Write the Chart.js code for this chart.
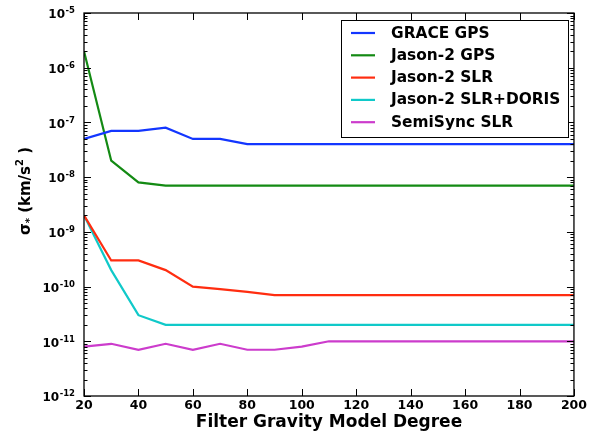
<!DOCTYPE html>
<html>
<head>
<meta charset="utf-8">
<script src="https://cdn.jsdelivr.net/npm/chart.js@4/dist/chart.umd.min.js"></script>
<style>
  html, body { margin: 0; padding: 0; background: #ffffff; }
  canvas { display: block; }
</style>
</head>
<body>
<canvas id="chart" width="589" height="435"></canvas>
<script>
// Filter gravity model degree (x) and sigma* values per tracking configuration
const degrees = [20, 30, 40, 50, 60, 70, 80, 90, 100, 110, 120, 130, 140, 150, 160, 170, 180, 190, 200];

const graceGps = [5e-8, 7e-8, 7e-8, 8e-8, 5e-8, 5e-8, 4e-8, 4e-8, 4e-8, 4e-8, 4e-8, 4e-8, 4e-8, 4e-8, 4e-8, 4e-8, 4e-8, 4e-8, 4e-8];
const jason2Gps = [2e-6, 2e-8, 8e-9, 7e-9, 7e-9, 7e-9, 7e-9, 7e-9, 7e-9, 7e-9, 7e-9, 7e-9, 7e-9, 7e-9, 7e-9, 7e-9, 7e-9, 7e-9, 7e-9];
const jason2Slr = [2e-9, 3e-10, 3e-10, 2e-10, 1e-10, 9e-11, 8e-11, 7e-11, 7e-11, 7e-11, 7e-11, 7e-11, 7e-11, 7e-11, 7e-11, 7e-11, 7e-11, 7e-11, 7e-11];
const jason2SlrDoris = [2e-9, 2e-10, 3e-11, 2e-11, 2e-11, 2e-11, 2e-11, 2e-11, 2e-11, 2e-11, 2e-11, 2e-11, 2e-11, 2e-11, 2e-11, 2e-11, 2e-11, 2e-11, 2e-11];
const semiSyncSlr = [8e-12, 9e-12, 7e-12, 9e-12, 7e-12, 9e-12, 7e-12, 7e-12, 8e-12, 1e-11, 1e-11, 1e-11, 1e-11, 1e-11, 1e-11, 1e-11, 1e-11, 1e-11, 1e-11];

const seriesNames = ['GRACE GPS', 'Jason-2 GPS', 'Jason-2 SLR', 'Jason-2 SLR+DORIS', 'SemiSync SLR'];
const seriesValues = [graceGps, jason2Gps, jason2Slr, jason2SlrDoris, semiSyncSlr];
const seriesColors = ['#1336ff', '#138a13', '#ff2d10', '#10c9c9', '#cc3ccc'];

const xTickValues = [20, 40, 60, 80, 100, 120, 140, 160, 180, 200];
const yDecadeExponents = [-12, -11, -10, -9, -8, -7, -6, -5];

const FONT = "'DejaVu Sans', 'Liberation Sans', sans-serif";

// Inward ticks on all four sides, boxed frame, math-style y labels, y title and legend
const axesDecor = {
  id: 'axesDecor',
  afterDraw(chart) {
    const { ctx, chartArea, scales } = chart;
    const { left, right, top, bottom } = chartArea;
    const xs = scales.x, ys = scales.y;
    ctx.save();
    ctx.strokeStyle = '#000';
    ctx.fillStyle = '#000';
    ctx.lineWidth = 1;

    const seg = (x1, y1, x2, y2) => {
      ctx.beginPath(); ctx.moveTo(x1, y1); ctx.lineTo(x2, y2); ctx.stroke();
    };

    // y ticks: decades (major) and 2..9 multiples (minor)
    for (const e of yDecadeExponents) {
      for (let k = 1; k <= 9; k++) {
        if (e === yDecadeExponents[yDecadeExponents.length - 1] && k > 1) break;
        const v = k * Math.pow(10, e);
        const py = Math.round(ys.getPixelForValue(v)) + 0.5;
        const len = k === 1 ? 7 : 3.5;
        seg(left, py, left + len, py);
        seg(right, py, right - len, py);
      }
    }
    // x ticks
    for (const v of xTickValues) {
      const px = Math.round(xs.getPixelForValue(v)) + 0.5;
      seg(px, bottom, px, bottom - 7);
      seg(px, top, px, top + 7);
    }
    // frame
    ctx.lineWidth = 1.3;
    ctx.strokeRect(left, top, right - left, bottom - top);

    // y tick labels: 10 with superscript exponent
    const labelRight = 75;
    ctx.textAlign = 'right';
    ctx.textBaseline = 'alphabetic';
    for (const e of yDecadeExponents) {
      const py = ys.getPixelForValue(Math.pow(10, e));
      const expText = '-' + String(-e);
      ctx.font = 'bold 8.5px ' + FONT;
      const ew = ctx.measureText(expText).width;
      ctx.fillText(expText, labelRight, py + 0.3);
      ctx.font = 'bold 12px ' + FONT;
      ctx.fillText('10', labelRight - ew - 0.5, py + 5.3);
    }

    // y axis title: sigma_* (km/s^2 )
    ctx.save();
    ctx.translate(30, 235);
    ctx.rotate(-Math.PI / 2);
    ctx.textAlign = 'left';
    const parts = [
      { t: '\u03c3', size: 15, dy: 0 },
      { t: '*', size: 10, dy: 3 },
      { t: ' (km/s', size: 15, dy: 0 },
      { t: '2', size: 10, dy: -7 },
      { t: ' )', size: 15, dy: 0 }
    ];
    let cx = 0;
    for (const p of parts) {
      ctx.font = 'bold ' + p.size + 'px ' + FONT;
      ctx.fillText(p.t, cx, p.dy);
      cx += ctx.measureText(p.t).width;
    }
    ctx.restore();

    // legend box
    const lx = 341.5, ly = 20.5, lw = 227, lh = 117;
    ctx.fillStyle = '#fff';
    ctx.fillRect(lx, ly, lw, lh);
    ctx.lineWidth = 1;
    ctx.strokeStyle = '#000';
    ctx.strokeRect(lx, ly, lw, lh);
    ctx.font = 'bold 15.4px ' + FONT;
    ctx.textAlign = 'left';
    ctx.textBaseline = 'middle';
    chart.data.datasets.forEach((ds, i) => {
      const rowY = 33 + i * 22.3;
      ctx.strokeStyle = ds.borderColor;
      ctx.lineWidth = 2.2;
      seg(351, rowY, 375, rowY);
      ctx.fillStyle = '#000';
      ctx.fillText(ds.label, 391, rowY + 0.5);
    });
    ctx.restore();
  }
};

const datasets = seriesNames.map((name, i) => ({
  label: name,
  data: degrees.map((d, j) => ({ x: d, y: seriesValues[i][j] })),
  borderColor: seriesColors[i],
  backgroundColor: seriesColors[i],
  borderWidth: 2.2,
  pointRadius: 0,
  tension: 0,
  fill: false
}));

new Chart(document.getElementById('chart').getContext('2d'), {
  type: 'line',
  data: { datasets },
  options: {
    responsive: false,
    animation: false,
    devicePixelRatio: 1,
    layout: { padding: { left: 0, top: 13, right: 14, bottom: 0 } },
    plugins: { legend: { display: false }, tooltip: { enabled: false } },
    scales: {
      x: {
        type: 'linear',
        min: 20,
        max: 200,
        grid: { display: false, drawTicks: false },
        border: { display: false },
        afterBuildTicks: (scale) => { scale.ticks = xTickValues.map(v => ({ value: v })); },
        ticks: {
          padding: 2,
          color: '#000',
          maxRotation: 0,
          autoSkip: false,
          font: { family: FONT, size: 12.5, weight: 'bold' }
        },
        title: {
          display: true,
          text: 'Filter Gravity Model Degree',
          color: '#000',
          font: { family: FONT, size: 17, weight: 'bold' },
          padding: { top: 0, bottom: 2 }
        },
        afterFit: (scale) => { scale.height = 39; }
      },
      y: {
        type: 'logarithmic',
        min: 1e-12,
        max: 1e-5,
        grid: { display: false, drawTicks: false },
        border: { display: false },
        ticks: { display: false },
        afterFit: (scale) => { scale.width = 84; }
      }
    }
  },
  plugins: [axesDecor]
});
</script>
</body>
</html>
